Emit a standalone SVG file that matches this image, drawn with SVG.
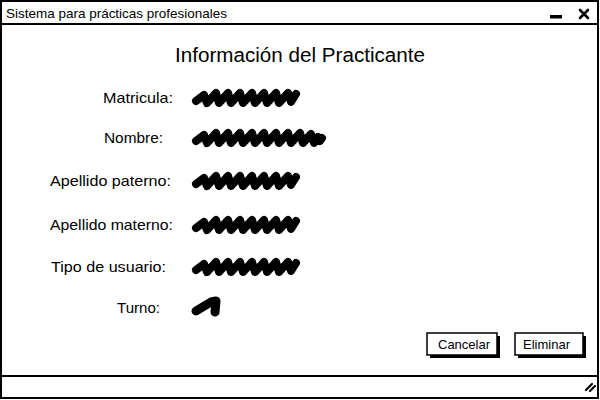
<svg xmlns="http://www.w3.org/2000/svg" xmlns:xlink="http://www.w3.org/1999/xlink" width="600" height="400" viewBox="0 0 600 400">
<style>
text{font-family:"Liberation Sans","DejaVu Sans",sans-serif;fill:#000}
.lbl{font-size:14.5px}
.scr{fill:none;stroke:#000;stroke-width:8;stroke-linecap:round;stroke-linejoin:round}
.btn{fill:#fff;stroke:#000;stroke-width:1.5}
.sh{fill:#000}
.frame{fill:none;stroke:#000;stroke-width:2}
</style>
<defs>
<path id="scr" class="scr" d="M0,4 l8,-6 l3,8 l9,-10 l3,10 l9,-10 l3,10 l9,-10 l3,10 l9,-10 l3,10 l9,-10 l3,10 l9,-10 l3,10 l9,-10 l3,9 l5,-8"/>
<path id="scrL" class="scr" d="M0,4 l8,-6 l3,8 l9,-10 l3,10 l9,-10 l3,10 l9,-10 l3,10 l9,-10 l3,10 l9,-10 l3,10 l9,-10 l3,10 l9,-10 l3,10 l9,-10 l3,10 l8,-9 l3,9 l4,-6 l2,4 l2,-3"/>
</defs>
<rect width="600" height="400" fill="#fff"/>
<g id="window">
<rect class="frame" x="1" y="1" width="597" height="397"/>
<line x1="1" y1="24" x2="598" y2="24" stroke="#000" stroke-width="2"/>
<line x1="1" y1="376" x2="598" y2="376" stroke="#000" stroke-width="2"/>
<text x="6" y="18" font-size="13" textLength="221" lengthAdjust="spacingAndGlyphs">Sistema para prácticas profesionales</text>
<rect x="550" y="15" width="12" height="3.5" fill="#000"/>
<path d="M580,10 L588,18 M588,10 L580,18" stroke="#000" stroke-width="2.6" stroke-linecap="round"/>
<path d="M586,390 L592,384 M590,391 L595,386" stroke="#000" stroke-width="2.2" stroke-linecap="round"/>
</g>
<g id="title"><text x="175" y="62" font-size="20" textLength="250" lengthAdjust="spacingAndGlyphs">Información del Practicante</text></g>
<g id="matricula">
<text class="lbl" x="103" y="103" textLength="70" lengthAdjust="spacingAndGlyphs">Matricula:</text>
<use xlink:href="#scr" x="196" y="97"/>
</g>
<g id="nombre">
<text class="lbl" x="104" y="143" textLength="59" lengthAdjust="spacingAndGlyphs">Nombre:</text>
<use xlink:href="#scrL" x="196" y="137"/>
</g>
<g id="apaterno">
<text class="lbl" x="50" y="186" textLength="121" lengthAdjust="spacingAndGlyphs">Apellido paterno:</text>
<use xlink:href="#scr" x="196" y="180"/>
</g>
<g id="amaterno">
<text class="lbl" x="50" y="230" textLength="123" lengthAdjust="spacingAndGlyphs">Apellido materno:</text>
<use xlink:href="#scr" x="196" y="224"/>
</g>
<g id="tipo">
<text class="lbl" x="51" y="272" textLength="115" lengthAdjust="spacingAndGlyphs">Tipo de usuario:</text>
<use xlink:href="#scr" x="196" y="266"/>
</g>
<g id="turno">
<text class="lbl" x="117" y="313" textLength="43" lengthAdjust="spacingAndGlyphs">Turno:</text>
<path class="scr" style="stroke-width:9" d="M196,311 L211,302 L216,301 L215,312"/>
</g>
<g id="cancelar">
<rect class="sh" x="430" y="336" width="70" height="22"/>
<rect class="btn" x="427" y="333" width="70" height="22"/>
<text x="438" y="349" font-size="13" textLength="52" lengthAdjust="spacingAndGlyphs">Cancelar</text>
</g>
<g id="eliminar">
<rect class="sh" x="518" y="336" width="68" height="22"/>
<rect class="btn" x="515" y="333" width="68" height="22"/>
<text x="523" y="349" font-size="13" textLength="47" lengthAdjust="spacingAndGlyphs">Eliminar</text>
</g>
<g id="connectors"></g>
</svg>
